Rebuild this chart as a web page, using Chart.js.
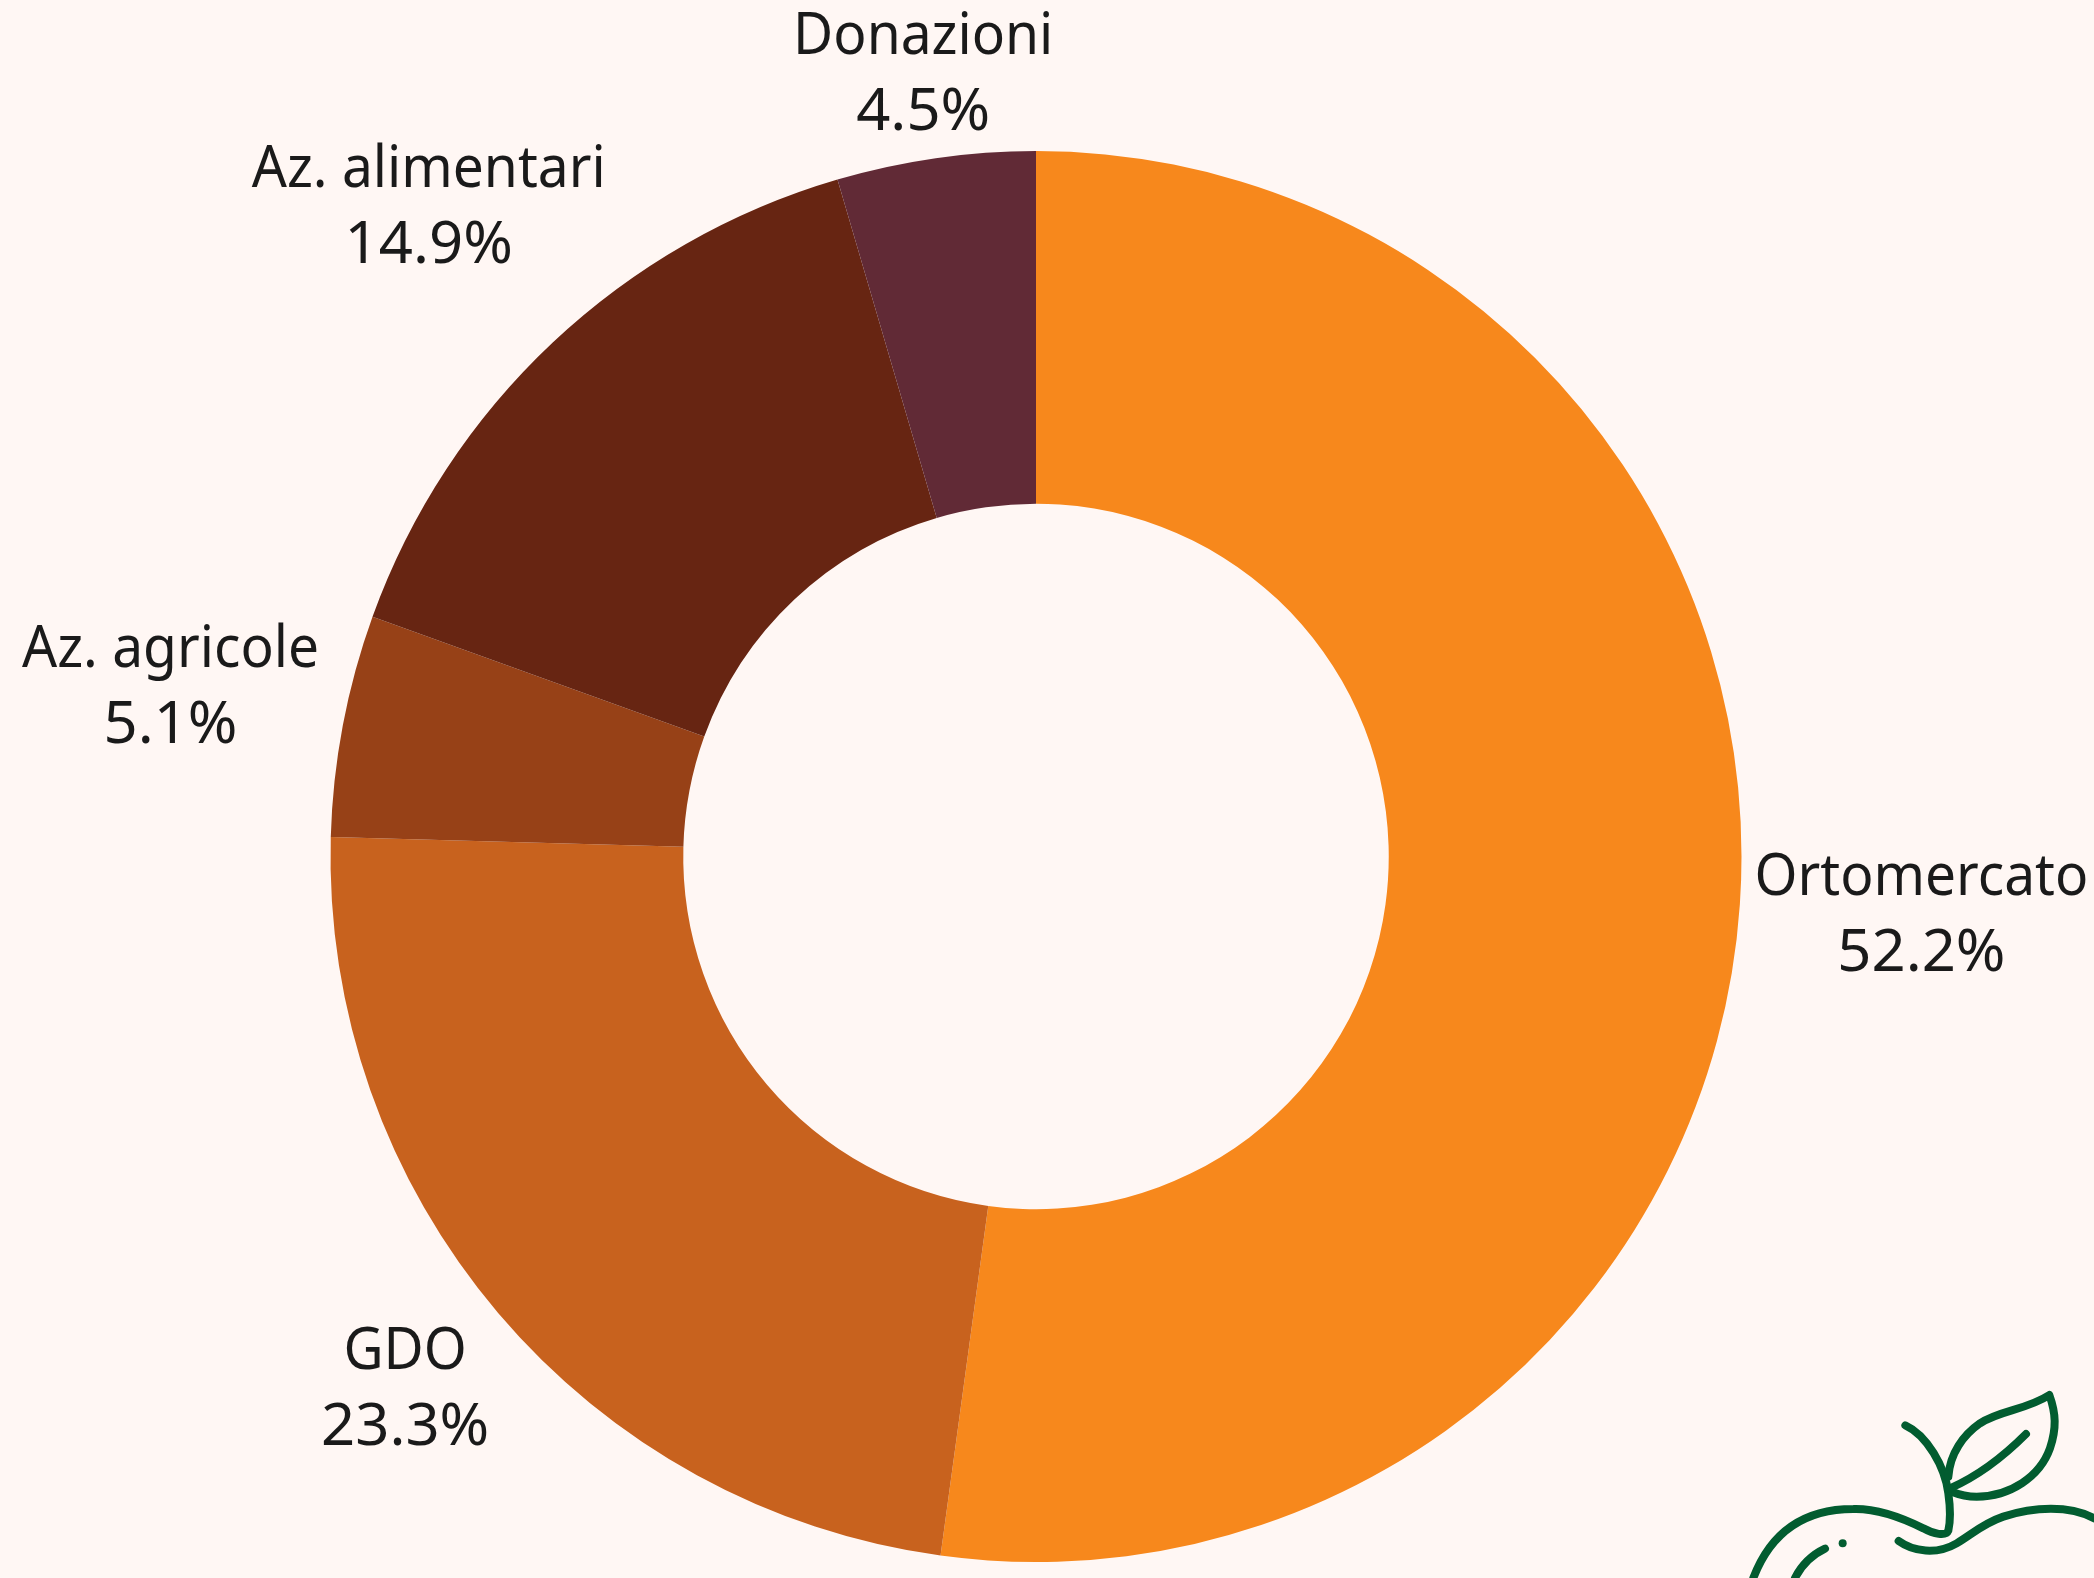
<!DOCTYPE html>
<html><head><meta charset="utf-8">
<script src="https://cdn.jsdelivr.net/npm/chart.js@4"></script>
<style>
html,body{margin:0;padding:0;background:#fff7f4;overflow:hidden}
#wrap{position:relative;width:2094px;height:1578px}
canvas{position:absolute;left:0;top:0}
svg{position:absolute;left:1700px;top:1360px}
</style></head><body>
<div id="wrap"><canvas id="c" width="2094" height="1578"></canvas>
<svg width="394" height="218" viewBox="0 0 1182 654" fill="none" stroke="#025c30" stroke-width="24" stroke-linecap="round" stroke-linejoin="round">
<path d="M616 196C680 225 735 320 745 400C752 450 750 490 745 512C738 530 700 522 670 505C600 470 530 445 460 447C320 447 215 510 160 654"/>
<path d="M375 566C335 585 305 615 285 654"/>
<path d="M428 550L428 550"/>
<path d="M596 543C640 575 710 585 770 550C820 520 850 490 910 470C1000 440 1110 435 1182 475"/>
<path d="M745 350C750 280 790 225 840 190C900 150 980 150 1048 105C1068 160 1070 205 1050 265C1020 350 930 410 830 410C800 410 775 403 755 395"/>
<path d="M750 385C830 350 910 290 978 222"/>
</svg></div>
<script>
const categories = ["Ortomercato","GDO","Az. agricole","Az. alimentari","Donazioni"];
const shares = [52.16,23.28,5.08,14.94,4.54];
const sliceColors = ["#f7881c","#c8621e","#974117","#672512","#612a36"];

const outsideLabels = {
  id:'outsideLabels',
  afterDatasetsDraw(chart){
    const FONT = '400 58px "Noto Sans"', SQUEEZE = 0.95, PCT_SQUEEZE = 1.03, LINE = 76, GAP = 20;
    const nudge = [[-7,-1],[-3,1],[1,-4],[-1,-3],[0,4]];
    const ctx = chart.ctx, meta = chart.getDatasetMeta(0);
    ctx.save();
    ctx.font = FONT; ctx.fillStyle = '#1a1a1a';
    ctx.textAlign = 'center'; ctx.textBaseline = 'middle';
    meta.data.forEach((arc,i)=>{
      const mid = (arc.startAngle+arc.endAngle)/2;
      const pct = shares[i].toFixed(1)+'%';
      const hw = SQUEEZE*Math.max(ctx.measureText(categories[i]).width, ctx.measureText(pct).width)/2;
      const hh = LINE/2+22;
      const ux = Math.cos(mid), uy = Math.sin(mid);
      let lo = arc.outerRadius, hi = arc.outerRadius*2;
      for(let k=0;k<40;k++){
        const t=(lo+hi)/2, cx=t*ux, cy=t*uy;
        const nx=Math.max(Math.abs(cx)-hw,0), ny=Math.max(Math.abs(cy)-hh,0);
        if(Math.hypot(nx,ny) < arc.outerRadius+GAP) lo=t; else hi=t;
      }
      const x = arc.x+lo*ux+nudge[i][0], y = arc.y+lo*uy+nudge[i][1];
      ctx.save();
      ctx.translate(x,y);
      ctx.save(); ctx.scale(SQUEEZE,1); ctx.fillText(categories[i], 0, -LINE/2); ctx.restore();
      ctx.save(); ctx.scale(PCT_SQUEEZE,1); ctx.fillText(pct, 0, LINE/2); ctx.restore();
      ctx.restore();
    });
    ctx.restore();
  }
};

new Chart(document.getElementById('c'),{
  type:'doughnut',
  data:{labels:categories,datasets:[{data:shares,backgroundColor:sliceColors,borderWidth:0}]},
  options:{
    responsive:false,animation:false,cutout:'50%',
    layout:{padding:{top:151,bottom:16,left:0,right:22}},
    plugins:{legend:{display:false},tooltip:{enabled:false}}
  },
  plugins:[outsideLabels]
});
</script></body></html>
